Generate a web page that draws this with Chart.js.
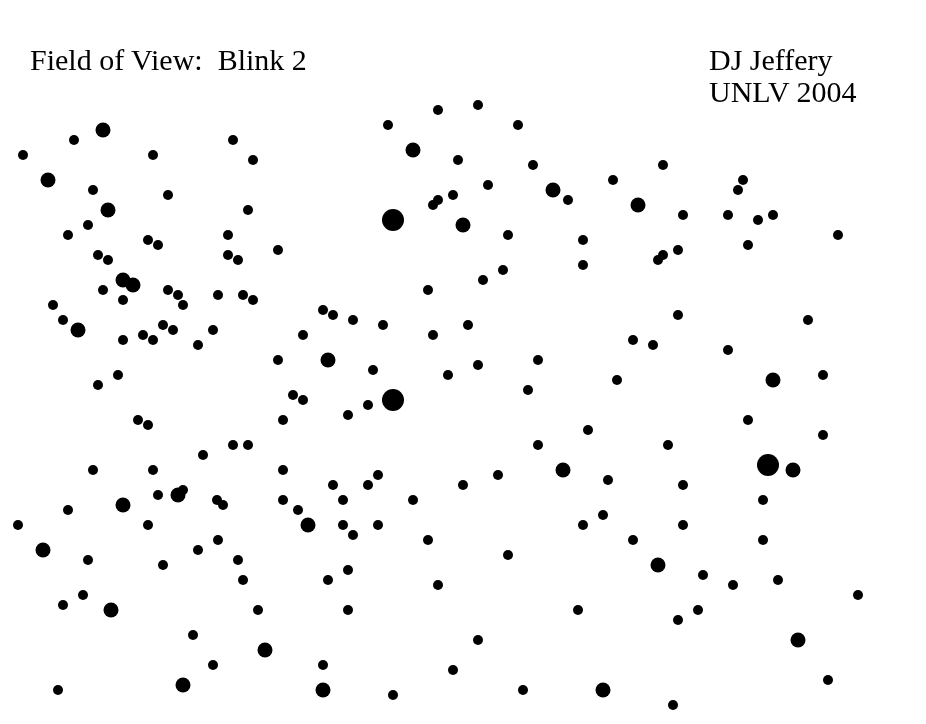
<!DOCTYPE html>
<html lang="en">
<head>
    <meta charset="UTF-8">
    <title>Field of View: Blink 2</title>
    <script src="https://cdn.jsdelivr.net/npm/chart.js"></script>
    <style>
        body { margin: 0; background: #fff; }
        .wrap { position: relative; width: 926px; height: 724px; }
        .label {
            position: absolute;
            font-family: "Liberation Serif", "Times New Roman", serif;
            font-size: 30px;
            line-height: 1;
            color: #000;
            white-space: pre;
        }
    </style>
</head>
<body>
    <div class="wrap">
        <canvas id="field" width="926" height="724"></canvas>
        <div class="label" style="left:30px; top:45px;">Field of View:  Blink 2</div>
        <div class="label" style="left:709px; top:45px;">DJ Jeffery</div>
        <div class="label" style="left:709px; top:77px;">UNLV 2004</div>
    </div>

    <script>
        // star positions (picture pixels) and brightness class: 1 faint, 2 medium, 3 bright
        const starX = [
            103, 74, 23, 153, 233, 253, 48, 93, 168, 108, 248, 88, 68, 148, 158, 228, 278,
            438, 478, 388, 518, 413, 458, 533, 488, 613, 553, 568, 453, 438, 433, 393, 463, 508, 583,
            663, 743, 738, 638, 683, 728, 758, 773, 838, 748,
            98, 108, 228, 238, 123, 133, 103, 123, 168, 178, 183, 218, 243, 253, 53, 63, 78, 123, 143, 153, 163, 173, 198, 213, 303, 278, 118, 98, 293, 303,
            583, 503, 483, 428, 323, 333, 353, 383, 433, 468, 328, 373, 448, 478, 538, 528, 617,
            678, 663, 658, 678, 808, 633, 653, 728, 773, 823,
            138, 148, 283, 233, 248, 203, 93, 153, 283, 158, 178, 183, 217, 223, 123, 68, 283, 298, 308, 18, 148, 43, 198, 218, 88, 238,
            393, 368, 348, 588, 538, 563, 498, 608, 463, 378, 333, 368, 343, 413, 343, 378, 353, 428, 508, 583, 603,
            748, 823, 668, 768, 793, 683, 763, 683, 633, 763, 658,
            163, 243, 83, 63, 111, 258, 193, 265, 213, 183, 58,
            348, 328, 438, 348, 578, 478, 323, 453, 323, 393, 523, 603,
            703, 733, 778, 858, 698, 678, 798, 828, 673
        ];
        const starY = [
            130, 140, 155, 155, 140, 160, 180, 190, 195, 210, 210, 225, 235, 240, 245, 235, 250,
            110, 105, 125, 125, 150, 160, 165, 185, 180, 190, 200, 195, 200, 205, 220, 225, 235, 240,
            165, 180, 190, 205, 215, 215, 220, 215, 235, 245,
            255, 260, 255, 260, 280, 285, 290, 300, 290, 295, 305, 295, 295, 300, 305, 320, 330, 340, 335, 340, 325, 330, 345, 330, 335, 360, 375, 385, 395, 400,
            265, 270, 280, 290, 310, 315, 320, 325, 335, 325, 360, 370, 375, 365, 360, 390, 380,
            250, 255, 260, 315, 320, 340, 345, 350, 380, 375,
            420, 425, 420, 445, 445, 455, 470, 470, 470, 495, 495, 490, 500, 505, 505, 510, 500, 510, 525, 525, 525, 550, 550, 540, 560, 560,
            400, 405, 415, 430, 445, 470, 475, 480, 485, 475, 485, 485, 500, 500, 525, 525, 535, 540, 555, 525, 515,
            420, 435, 445, 465, 470, 485, 500, 525, 540, 540, 565,
            565, 580, 595, 605, 610, 610, 635, 650, 665, 685, 690,
            570, 580, 585, 610, 610, 640, 665, 670, 690, 695, 690, 690,
            575, 585, 580, 595, 610, 620, 640, 680, 705
        ];
        const starClass = [
            2, 1, 1, 1, 1, 1, 2, 1, 1, 2, 1, 1, 1, 1, 1, 1, 1,
            1, 1, 1, 1, 2, 1, 1, 1, 1, 2, 1, 1, 1, 1, 3, 2, 1, 1,
            1, 1, 1, 2, 1, 1, 1, 1, 1, 1,
            1, 1, 1, 1, 2, 2, 1, 1, 1, 1, 1, 1, 1, 1, 1, 1, 2, 1, 1, 1, 1, 1, 1, 1, 1, 1, 1, 1, 1, 1,
            1, 1, 1, 1, 1, 1, 1, 1, 1, 1, 2, 1, 1, 1, 1, 1, 1,
            1, 1, 1, 1, 1, 1, 1, 1, 2, 1,
            1, 1, 1, 1, 1, 1, 1, 1, 1, 1, 2, 1, 1, 1, 2, 1, 1, 1, 2, 1, 1, 2, 1, 1, 1, 1,
            3, 1, 1, 1, 1, 2, 1, 1, 1, 1, 1, 1, 1, 1, 1, 1, 1, 1, 1, 1, 1,
            1, 1, 1, 3, 2, 1, 1, 1, 1, 1, 2,
            1, 1, 1, 1, 2, 1, 1, 2, 1, 2, 1,
            1, 1, 1, 1, 1, 1, 1, 1, 2, 1, 1, 2,
            1, 1, 1, 1, 1, 1, 2, 1, 1
        ];

        const radiusFor = { 1: 5, 2: 7.5, 3: 11 };

        const points = starX.map((x, i) => ({ x: x, y: starY[i] }));

        new Chart(document.getElementById('field').getContext('2d'), {
            type: 'scatter',
            data: {
                datasets: [{
                    data: points,
                    backgroundColor: '#000',
                    borderWidth: 0,
                    clip: false,
                    pointRadius: starClass.map(c => radiusFor[c])
                }]
            },
            options: {
                responsive: false,
                animation: false,
                events: [],
                layout: { padding: 0, autoPadding: false },
                plugins: {
                    legend: { display: false },
                    tooltip: { enabled: false }
                },
                scales: {
                    x: { type: 'linear', min: 0, max: 926, display: false },
                    y: { type: 'linear', min: 0, max: 724, reverse: true, display: false }
                }
            }
        });
    </script>
</body>
</html>
